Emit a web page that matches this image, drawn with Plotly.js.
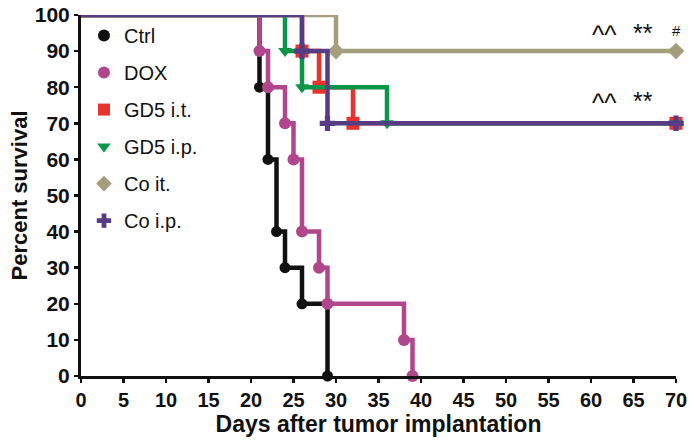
<!DOCTYPE html>
<html><head><meta charset="utf-8">
<script src="https://cdn.plot.ly/plotly-3.0.1.min.js"></script>
<style>html,body{margin:0;padding:0;background:#fff}</style>
</head><body><div id="chart" style="width:694px;height:447px"></div>
<script>
// Kaplan-Meier step data (day, percent survival)
const ctrlDays = [0, 21, 22, 23, 24, 26, 29];
const ctrlSurv = [100, 80, 60, 40, 30, 20, 0];
const doxDays = [0, 21, 22, 24, 25, 26, 28, 29, 38, 39];
const doxSurv = [100, 90, 80, 70, 60, 40, 30, 20, 10, 0];
const gd5itDays = [0, 26, 28, 32, 70];
const gd5itSurv = [100, 90, 80, 70, 70];
const gd5ipDays = [0, 24, 26, 36, 70];
const gd5ipSurv = [100, 90, 80, 70, 70];
const coitDays = [0, 30, 70];
const coitSurv = [100, 90, 90];
const coipDays = [0, 26, 29, 70];
const coipSurv = [100, 90, 70, 70];
const seriesNames = ["Ctrl", "DOX", "GD5 i.t.", "GD5 i.p.", "Co it.", "Co i.p."];
const xTicks = [0,5,10,15,20,25,30,35,40,45,50,55,60,65,70];
const yTicks = [0,10,20,30,40,50,60,70,80,90,100];
// significance marks
const sigRow1Text = ["^^", "**", "#"];
const sigRow1Day = [61.6, 66.1, 70];
const sigRow1Pct = 94.5;
const sigRow2Text = ["^^", "**"];
const sigRow2Day = [61.6, 66.1];
const sigRow2Pct = 75.5;

const FONT = "Liberation Sans, Arial, sans-serif";

const styles = [
  {color:"#111111", symbol:"circle", size:11},
  {color:"#b0468c", symbol:"circle", size:12},
  {color:"#e8322d", symbol:"square", size:13},
  {color:"#0a9648", symbol:"triangle-down", size:12},
  {color:"#a59e7d", symbol:"diamond", size:13},
  {color:"#553c85", symbol:"cross", size:13}
];
const xs = [ctrlDays, doxDays, gd5itDays, gd5ipDays, coitDays, coipDays];
const ys = [ctrlSurv, doxSurv, gd5itSurv, gd5ipSurv, coitSurv, coipSurv];

const traces = [];
seriesNames.forEach((n, i) => {
  traces.push({
    type: "scatter", mode: "lines", name: n, showlegend: false,
    x: xs[i], y: ys[i], legendgroup: "g" + i,
    line: {shape: "hv", color: styles[i].color, width: 4.5},
    cliponaxis: false
  });
  traces.push({
    type: "scatter", mode: "markers", name: n, showlegend: true,
    x: xs[i].slice(1), y: ys[i].slice(1), legendgroup: "g" + i,
    marker: {symbol: styles[i].symbol, color: styles[i].color, size: styles[i].size,
             opacity: 1, line: {width: 0}},
    cliponaxis: false
  });
});

const annotations = [];
sigRow1Text.forEach((t, i) => annotations.push({x: sigRow1Day[i], y: sigRow1Pct, text: t, showarrow: false,
  yshift: t === "#" ? 4 : (t === "**" ? 2 : 0),
  font: {family: FONT, size: t === "#" ? 15 : (t === "^^" ? 26 : 25), color: "#111"}}));
sigRow2Text.forEach((t, i) => annotations.push({x: sigRow2Day[i], y: sigRow2Pct, text: t, showarrow: false,
  yshift: t === "**" ? 2 : 0,
  font: {family: FONT, size: t === "^^" ? 26 : 25, color: "#111"}}));

const layout = {
  width: 694, height: 447,
  margin: {l: 81, r: 18, t: 15, b: 71, pad: 0},
  paper_bgcolor: "#fff", plot_bgcolor: "#fff",
  showlegend: true,
  legend: {x: 0.005, y: 0.997, xanchor: "left", yanchor: "top", bgcolor: "rgba(0,0,0,0)",
           font: {family: FONT, size: 20, color: "#111"},
           tracegroupgap: 8, itemsizing: "constant"},
  xaxis: {range: [0, 70], tickvals: xTicks, ticktext: xTicks.map(String),
          showline: true, linecolor: "#111", linewidth: 3, ticks: "outside", ticklen: 4, tickwidth: 2.5, tickcolor: "#111",
          showgrid: false, zeroline: false,
          tickfont: {family: FONT, size: 20, color: "#111", weight: "bold"},
          title: {text: "<b>Days after tumor implantation</b>", standoff: 4,
                  font: {family: FONT, size: 23, color: "#111"}}},
  yaxis: {range: [0, 100], tickvals: yTicks, ticktext: yTicks.map(String),
          showline: true, linecolor: "#111", linewidth: 3, ticks: "outside", ticklen: 4, tickwidth: 2.5, tickcolor: "#111",
          showgrid: false, zeroline: false,
          tickfont: {family: FONT, size: 21, color: "#111", weight: "bold"},
          title: {text: "<b>Percent survival</b>", standoff: 2,
                  font: {family: FONT, size: 22, color: "#111"}}},
  annotations: annotations
};
Plotly.newPlot("chart", traces, layout, {displayModeBar: false, staticPlot: true});
</script></body></html>
